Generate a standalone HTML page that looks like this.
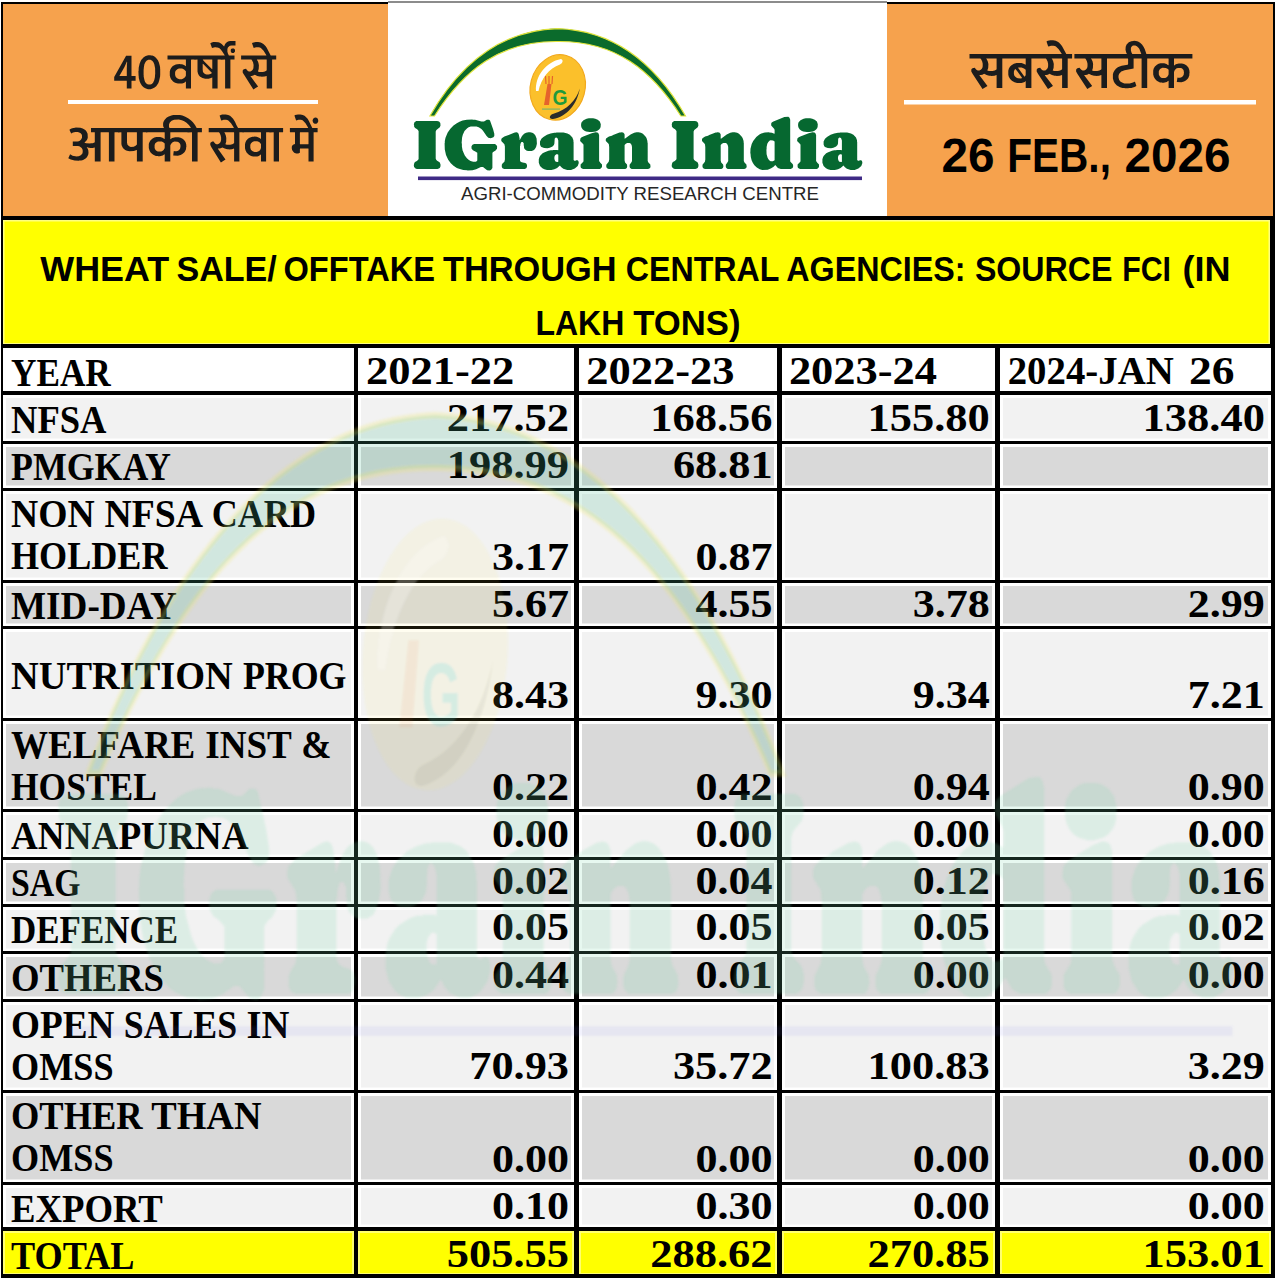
<!DOCTYPE html><html><head><meta charset="utf-8"><title>Wheat sale / offtake through central agencies</title><style>html,body{margin:0;padding:0;background:#fff}body{width:1276px;height:1280px;overflow:hidden;position:relative}svg{position:absolute;left:0;top:0}.t{font-family:"Liberation Serif",serif;font-weight:bold;font-size:41px;fill:#000}.s{font-family:"Liberation Sans",sans-serif}</style></head><body><svg width="1276" height="1280" viewBox="0 0 1276 1280"><rect x="0" y="0" width="1276" height="1280" fill="#fff"/><rect x="1" y="2" width="1274" height="1276" fill="#000"/><rect x="3" y="4" width="385" height="212" fill="#f6a24d"/><rect x="388" y="1" width="499" height="2" fill="#8c8c8c"/><rect x="388" y="3" width="499" height="213" fill="#fff"/><rect x="887" y="4" width="386" height="212" fill="#f6a24d"/><rect x="3" y="220" width="1267" height="124" fill="#ffff80"/><rect x="4.5" y="221.5" width="1264" height="121.5" fill="#ffff00"/><rect x="3" y="348" width="351" height="43" fill="#fff"/><rect x="358" y="348" width="216" height="43" fill="#fff"/><rect x="579" y="348" width="198" height="43" fill="#fff"/><rect x="782" y="348" width="213" height="43" fill="#fff"/><rect x="1000" y="348" width="271" height="43" fill="#fff"/><rect x="3" y="395" width="351" height="46" fill="#fff"/><rect x="6" y="398" width="345" height="40.5" fill="#f2f2f2"/><rect x="358" y="395" width="216" height="46" fill="#fff"/><rect x="361" y="398" width="210" height="40.5" fill="#f2f2f2"/><rect x="579" y="395" width="198" height="46" fill="#fff"/><rect x="582" y="398" width="192" height="40.5" fill="#f2f2f2"/><rect x="782" y="395" width="213" height="46" fill="#fff"/><rect x="785" y="398" width="207" height="40.5" fill="#f2f2f2"/><rect x="1000" y="395" width="271" height="46" fill="#fff"/><rect x="1003" y="398" width="265" height="40.5" fill="#f2f2f2"/><rect x="3" y="444" width="351" height="44" fill="#fff"/><rect x="6" y="447" width="345" height="38.5" fill="#d9d9d9"/><rect x="358" y="444" width="216" height="44" fill="#fff"/><rect x="361" y="447" width="210" height="38.5" fill="#d9d9d9"/><rect x="579" y="444" width="198" height="44" fill="#fff"/><rect x="582" y="447" width="192" height="38.5" fill="#d9d9d9"/><rect x="782" y="444" width="213" height="44" fill="#fff"/><rect x="785" y="447" width="207" height="38.5" fill="#d9d9d9"/><rect x="1000" y="444" width="271" height="44" fill="#fff"/><rect x="1003" y="447" width="265" height="38.5" fill="#d9d9d9"/><rect x="3" y="491" width="351" height="89" fill="#fff"/><rect x="6" y="494" width="345" height="83.5" fill="#f2f2f2"/><rect x="358" y="491" width="216" height="89" fill="#fff"/><rect x="361" y="494" width="210" height="83.5" fill="#f2f2f2"/><rect x="579" y="491" width="198" height="89" fill="#fff"/><rect x="582" y="494" width="192" height="83.5" fill="#f2f2f2"/><rect x="782" y="491" width="213" height="89" fill="#fff"/><rect x="785" y="494" width="207" height="83.5" fill="#f2f2f2"/><rect x="1000" y="491" width="271" height="89" fill="#fff"/><rect x="1003" y="494" width="265" height="83.5" fill="#f2f2f2"/><rect x="3" y="583" width="351" height="43" fill="#fff"/><rect x="6" y="586" width="345" height="37.5" fill="#d9d9d9"/><rect x="358" y="583" width="216" height="43" fill="#fff"/><rect x="361" y="586" width="210" height="37.5" fill="#d9d9d9"/><rect x="579" y="583" width="198" height="43" fill="#fff"/><rect x="582" y="586" width="192" height="37.5" fill="#d9d9d9"/><rect x="782" y="583" width="213" height="43" fill="#fff"/><rect x="785" y="586" width="207" height="37.5" fill="#d9d9d9"/><rect x="1000" y="583" width="271" height="43" fill="#fff"/><rect x="1003" y="586" width="265" height="37.5" fill="#d9d9d9"/><rect x="3" y="629" width="351" height="89" fill="#fff"/><rect x="6" y="632" width="345" height="83.5" fill="#f2f2f2"/><rect x="358" y="629" width="216" height="89" fill="#fff"/><rect x="361" y="632" width="210" height="83.5" fill="#f2f2f2"/><rect x="579" y="629" width="198" height="89" fill="#fff"/><rect x="582" y="632" width="192" height="83.5" fill="#f2f2f2"/><rect x="782" y="629" width="213" height="89" fill="#fff"/><rect x="785" y="632" width="207" height="83.5" fill="#f2f2f2"/><rect x="1000" y="629" width="271" height="89" fill="#fff"/><rect x="1003" y="632" width="265" height="83.5" fill="#f2f2f2"/><rect x="3" y="721" width="351" height="88" fill="#fff"/><rect x="6" y="724" width="345" height="82.5" fill="#d9d9d9"/><rect x="358" y="721" width="216" height="88" fill="#fff"/><rect x="361" y="724" width="210" height="82.5" fill="#d9d9d9"/><rect x="579" y="721" width="198" height="88" fill="#fff"/><rect x="582" y="724" width="192" height="82.5" fill="#d9d9d9"/><rect x="782" y="721" width="213" height="88" fill="#fff"/><rect x="785" y="724" width="207" height="82.5" fill="#d9d9d9"/><rect x="1000" y="721" width="271" height="88" fill="#fff"/><rect x="1003" y="724" width="265" height="82.5" fill="#d9d9d9"/><rect x="3" y="812" width="351" height="45" fill="#fff"/><rect x="6" y="815" width="345" height="39.5" fill="#f2f2f2"/><rect x="358" y="812" width="216" height="45" fill="#fff"/><rect x="361" y="815" width="210" height="39.5" fill="#f2f2f2"/><rect x="579" y="812" width="198" height="45" fill="#fff"/><rect x="582" y="815" width="192" height="39.5" fill="#f2f2f2"/><rect x="782" y="812" width="213" height="45" fill="#fff"/><rect x="785" y="815" width="207" height="39.5" fill="#f2f2f2"/><rect x="1000" y="812" width="271" height="45" fill="#fff"/><rect x="1003" y="815" width="265" height="39.5" fill="#f2f2f2"/><rect x="3" y="860" width="351" height="44" fill="#fff"/><rect x="6" y="863" width="345" height="38.5" fill="#d9d9d9"/><rect x="358" y="860" width="216" height="44" fill="#fff"/><rect x="361" y="863" width="210" height="38.5" fill="#d9d9d9"/><rect x="579" y="860" width="198" height="44" fill="#fff"/><rect x="582" y="863" width="192" height="38.5" fill="#d9d9d9"/><rect x="782" y="860" width="213" height="44" fill="#fff"/><rect x="785" y="863" width="207" height="38.5" fill="#d9d9d9"/><rect x="1000" y="860" width="271" height="44" fill="#fff"/><rect x="1003" y="863" width="265" height="38.5" fill="#d9d9d9"/><rect x="3" y="907" width="351" height="44" fill="#fff"/><rect x="6" y="910" width="345" height="38.5" fill="#f2f2f2"/><rect x="358" y="907" width="216" height="44" fill="#fff"/><rect x="361" y="910" width="210" height="38.5" fill="#f2f2f2"/><rect x="579" y="907" width="198" height="44" fill="#fff"/><rect x="582" y="910" width="192" height="38.5" fill="#f2f2f2"/><rect x="782" y="907" width="213" height="44" fill="#fff"/><rect x="785" y="910" width="207" height="38.5" fill="#f2f2f2"/><rect x="1000" y="907" width="271" height="44" fill="#fff"/><rect x="1003" y="910" width="265" height="38.5" fill="#f2f2f2"/><rect x="3" y="954" width="351" height="45" fill="#fff"/><rect x="6" y="957" width="345" height="39.5" fill="#d9d9d9"/><rect x="358" y="954" width="216" height="45" fill="#fff"/><rect x="361" y="957" width="210" height="39.5" fill="#d9d9d9"/><rect x="579" y="954" width="198" height="45" fill="#fff"/><rect x="582" y="957" width="192" height="39.5" fill="#d9d9d9"/><rect x="782" y="954" width="213" height="45" fill="#fff"/><rect x="785" y="957" width="207" height="39.5" fill="#d9d9d9"/><rect x="1000" y="954" width="271" height="45" fill="#fff"/><rect x="1003" y="957" width="265" height="39.5" fill="#d9d9d9"/><rect x="3" y="1002" width="351" height="88" fill="#fff"/><rect x="6" y="1005" width="345" height="82.5" fill="#f2f2f2"/><rect x="358" y="1002" width="216" height="88" fill="#fff"/><rect x="361" y="1005" width="210" height="82.5" fill="#f2f2f2"/><rect x="579" y="1002" width="198" height="88" fill="#fff"/><rect x="582" y="1005" width="192" height="82.5" fill="#f2f2f2"/><rect x="782" y="1002" width="213" height="88" fill="#fff"/><rect x="785" y="1005" width="207" height="82.5" fill="#f2f2f2"/><rect x="1000" y="1002" width="271" height="88" fill="#fff"/><rect x="1003" y="1005" width="265" height="82.5" fill="#f2f2f2"/><rect x="3" y="1093" width="351" height="89" fill="#fff"/><rect x="6" y="1096" width="345" height="83.5" fill="#d9d9d9"/><rect x="358" y="1093" width="216" height="89" fill="#fff"/><rect x="361" y="1096" width="210" height="83.5" fill="#d9d9d9"/><rect x="579" y="1093" width="198" height="89" fill="#fff"/><rect x="582" y="1096" width="192" height="83.5" fill="#d9d9d9"/><rect x="782" y="1093" width="213" height="89" fill="#fff"/><rect x="785" y="1096" width="207" height="83.5" fill="#d9d9d9"/><rect x="1000" y="1093" width="271" height="89" fill="#fff"/><rect x="1003" y="1096" width="265" height="83.5" fill="#d9d9d9"/><rect x="3" y="1185" width="351" height="42" fill="#fff"/><rect x="6" y="1188" width="345" height="36.5" fill="#f2f2f2"/><rect x="358" y="1185" width="216" height="42" fill="#fff"/><rect x="361" y="1188" width="210" height="36.5" fill="#f2f2f2"/><rect x="579" y="1185" width="198" height="42" fill="#fff"/><rect x="582" y="1188" width="192" height="36.5" fill="#f2f2f2"/><rect x="782" y="1185" width="213" height="42" fill="#fff"/><rect x="785" y="1188" width="207" height="36.5" fill="#f2f2f2"/><rect x="1000" y="1185" width="271" height="42" fill="#fff"/><rect x="1003" y="1188" width="265" height="36.5" fill="#f2f2f2"/><rect x="3" y="1231" width="351" height="43" fill="#fff"/><rect x="3" y="1231" width="351" height="43" fill="#ffff70"/><rect x="5" y="1233" width="347" height="40" fill="#ffff00"/><rect x="358" y="1231" width="216" height="43" fill="#fff"/><rect x="358" y="1231" width="216" height="43" fill="#ffff70"/><rect x="360" y="1233" width="212" height="40" fill="#ffff00"/><rect x="579" y="1231" width="198" height="43" fill="#fff"/><rect x="579" y="1231" width="198" height="43" fill="#ffff70"/><rect x="581" y="1233" width="194" height="40" fill="#ffff00"/><rect x="782" y="1231" width="213" height="43" fill="#fff"/><rect x="782" y="1231" width="213" height="43" fill="#ffff70"/><rect x="784" y="1233" width="209" height="40" fill="#ffff00"/><rect x="1000" y="1231" width="271" height="43" fill="#fff"/><rect x="1000" y="1231" width="271" height="43" fill="#ffff70"/><rect x="1002" y="1233" width="267" height="40" fill="#ffff00"/><text class="t" x="11.0" y="386.0" textLength="99.8" lengthAdjust="spacingAndGlyphs">YEAR</text><text class="t" x="366.0" y="383.5" textLength="148.2" lengthAdjust="spacingAndGlyphs">2021-22</text><text class="t" x="586.3" y="383.5" textLength="148.2" lengthAdjust="spacingAndGlyphs">2022-23</text><text class="t" x="788.9" y="383.5" textLength="148.2" lengthAdjust="spacingAndGlyphs">2023-24</text><text class="t" x="1007.7" y="383.5" textLength="166" lengthAdjust="spacingAndGlyphs">2024-JAN</text><text class="t" x="1189" y="383.5" textLength="45.5" lengthAdjust="spacingAndGlyphs">26</text><text class="t" x="11.0" y="432.8" textLength="95.5" lengthAdjust="spacingAndGlyphs">NFSA</text><text class="t" x="569.0" y="430.5" text-anchor="end" textLength="122.3" lengthAdjust="spacingAndGlyphs">217.52</text><text class="t" x="772.6" y="430.5" text-anchor="end" textLength="122.3" lengthAdjust="spacingAndGlyphs">168.56</text><text class="t" x="989.8" y="430.5" text-anchor="end" textLength="122.3" lengthAdjust="spacingAndGlyphs">155.80</text><text class="t" x="1264.9" y="430.5" text-anchor="end" textLength="122.3" lengthAdjust="spacingAndGlyphs">138.40</text><text class="t" x="11.0" y="480.1" textLength="160.0" lengthAdjust="spacingAndGlyphs">PMGKAY</text><text class="t" x="569.0" y="477.5" text-anchor="end" textLength="122.3" lengthAdjust="spacingAndGlyphs">198.99</text><text class="t" x="772.6" y="477.5" text-anchor="end" textLength="99.7" lengthAdjust="spacingAndGlyphs">68.81</text><text class="t" x="11.0" y="527.1" textLength="83.6" lengthAdjust="spacingAndGlyphs">NON</text><text class="t" x="104.6" y="527.1" textLength="98.5" lengthAdjust="spacingAndGlyphs">NFSA</text><text class="t" x="211.7" y="527.1" textLength="104.3" lengthAdjust="spacingAndGlyphs">CARD</text><text class="t" x="11.0" y="569.2" textLength="156.5" lengthAdjust="spacingAndGlyphs">HOLDER</text><text class="t" x="569.0" y="569.6" text-anchor="end" textLength="77.1" lengthAdjust="spacingAndGlyphs">3.17</text><text class="t" x="772.6" y="569.6" text-anchor="end" textLength="77.1" lengthAdjust="spacingAndGlyphs">0.87</text><text class="t" x="11.0" y="618.9" textLength="165.9" lengthAdjust="spacingAndGlyphs">MID-DAY</text><text class="t" x="569.0" y="616.5" text-anchor="end" textLength="77.1" lengthAdjust="spacingAndGlyphs">5.67</text><text class="t" x="772.6" y="616.5" text-anchor="end" textLength="77.1" lengthAdjust="spacingAndGlyphs">4.55</text><text class="t" x="989.8" y="616.5" text-anchor="end" textLength="77.1" lengthAdjust="spacingAndGlyphs">3.78</text><text class="t" x="1264.9" y="616.5" text-anchor="end" textLength="77.1" lengthAdjust="spacingAndGlyphs">2.99</text><text class="t" x="11.0" y="688.5" textLength="221.7" lengthAdjust="spacingAndGlyphs">NUTRITION</text><text class="t" x="242.9" y="688.5" textLength="103.6" lengthAdjust="spacingAndGlyphs">PROG</text><text class="t" x="569.0" y="708.0" text-anchor="end" textLength="77.1" lengthAdjust="spacingAndGlyphs">8.43</text><text class="t" x="772.6" y="708.0" text-anchor="end" textLength="77.1" lengthAdjust="spacingAndGlyphs">9.30</text><text class="t" x="989.8" y="708.0" text-anchor="end" textLength="77.1" lengthAdjust="spacingAndGlyphs">9.34</text><text class="t" x="1264.9" y="708.0" text-anchor="end" textLength="77.1" lengthAdjust="spacingAndGlyphs">7.21</text><text class="t" x="11.0" y="757.6" textLength="184.3" lengthAdjust="spacingAndGlyphs">WELFARE</text><text class="t" x="205.2" y="757.6" textLength="86.7" lengthAdjust="spacingAndGlyphs">INST</text><text class="t" x="301.3" y="757.6" textLength="30.2" lengthAdjust="spacingAndGlyphs">&amp;</text><text class="t" x="11.0" y="799.6" textLength="145.9" lengthAdjust="spacingAndGlyphs">HOSTEL</text><text class="t" x="569.0" y="799.6" text-anchor="end" textLength="77.1" lengthAdjust="spacingAndGlyphs">0.22</text><text class="t" x="772.6" y="799.6" text-anchor="end" textLength="77.1" lengthAdjust="spacingAndGlyphs">0.42</text><text class="t" x="989.8" y="799.6" text-anchor="end" textLength="77.1" lengthAdjust="spacingAndGlyphs">0.94</text><text class="t" x="1264.9" y="799.6" text-anchor="end" textLength="77.1" lengthAdjust="spacingAndGlyphs">0.90</text><text class="t" x="11.0" y="849.2" textLength="237.5" lengthAdjust="spacingAndGlyphs">ANNAPURNA</text><text class="t" x="569.0" y="846.5" text-anchor="end" textLength="77.1" lengthAdjust="spacingAndGlyphs">0.00</text><text class="t" x="772.6" y="846.5" text-anchor="end" textLength="77.1" lengthAdjust="spacingAndGlyphs">0.00</text><text class="t" x="989.8" y="846.5" text-anchor="end" textLength="77.1" lengthAdjust="spacingAndGlyphs">0.00</text><text class="t" x="1264.9" y="846.5" text-anchor="end" textLength="77.1" lengthAdjust="spacingAndGlyphs">0.00</text><text class="t" x="11.0" y="896.4" textLength="69.5" lengthAdjust="spacingAndGlyphs">SAG</text><text class="t" x="569.0" y="894.4" text-anchor="end" textLength="77.1" lengthAdjust="spacingAndGlyphs">0.02</text><text class="t" x="772.6" y="894.4" text-anchor="end" textLength="77.1" lengthAdjust="spacingAndGlyphs">0.04</text><text class="t" x="989.8" y="894.4" text-anchor="end" textLength="77.1" lengthAdjust="spacingAndGlyphs">0.12</text><text class="t" x="1264.9" y="894.4" text-anchor="end" textLength="77.1" lengthAdjust="spacingAndGlyphs">0.16</text><text class="t" x="11.0" y="943.4" textLength="167.1" lengthAdjust="spacingAndGlyphs">DEFENCE</text><text class="t" x="569.0" y="940.3" text-anchor="end" textLength="77.1" lengthAdjust="spacingAndGlyphs">0.05</text><text class="t" x="772.6" y="940.3" text-anchor="end" textLength="77.1" lengthAdjust="spacingAndGlyphs">0.05</text><text class="t" x="989.8" y="940.3" text-anchor="end" textLength="77.1" lengthAdjust="spacingAndGlyphs">0.05</text><text class="t" x="1264.9" y="940.3" text-anchor="end" textLength="77.1" lengthAdjust="spacingAndGlyphs">0.02</text><text class="t" x="11.0" y="991.0" textLength="153.0" lengthAdjust="spacingAndGlyphs">OTHERS</text><text class="t" x="569.0" y="988.1" text-anchor="end" textLength="77.1" lengthAdjust="spacingAndGlyphs">0.44</text><text class="t" x="772.6" y="988.1" text-anchor="end" textLength="77.1" lengthAdjust="spacingAndGlyphs">0.01</text><text class="t" x="989.8" y="988.1" text-anchor="end" textLength="77.1" lengthAdjust="spacingAndGlyphs">0.00</text><text class="t" x="1264.9" y="988.1" text-anchor="end" textLength="77.1" lengthAdjust="spacingAndGlyphs">0.00</text><text class="t" x="11.0" y="1037.6" textLength="103.4" lengthAdjust="spacingAndGlyphs">OPEN</text><text class="t" x="123.8" y="1037.6" textLength="113.3" lengthAdjust="spacingAndGlyphs">SALES</text><text class="t" x="246.6" y="1037.6" textLength="42.9" lengthAdjust="spacingAndGlyphs">IN</text><text class="t" x="11.0" y="1079.6" textLength="102.5" lengthAdjust="spacingAndGlyphs">OMSS</text><text class="t" x="569.0" y="1079.4" text-anchor="end" textLength="99.7" lengthAdjust="spacingAndGlyphs">70.93</text><text class="t" x="772.6" y="1079.4" text-anchor="end" textLength="99.7" lengthAdjust="spacingAndGlyphs">35.72</text><text class="t" x="989.8" y="1079.4" text-anchor="end" textLength="122.3" lengthAdjust="spacingAndGlyphs">100.83</text><text class="t" x="1264.9" y="1079.4" text-anchor="end" textLength="77.1" lengthAdjust="spacingAndGlyphs">3.29</text><text class="t" x="11.0" y="1129.2" textLength="131.6" lengthAdjust="spacingAndGlyphs">OTHER</text><text class="t" x="151.2" y="1129.2" textLength="110.3" lengthAdjust="spacingAndGlyphs">THAN</text><text class="t" x="11.0" y="1171.2" textLength="102.5" lengthAdjust="spacingAndGlyphs">OMSS</text><text class="t" x="569.0" y="1172.0" text-anchor="end" textLength="77.1" lengthAdjust="spacingAndGlyphs">0.00</text><text class="t" x="772.6" y="1172.0" text-anchor="end" textLength="77.1" lengthAdjust="spacingAndGlyphs">0.00</text><text class="t" x="989.8" y="1172.0" text-anchor="end" textLength="77.1" lengthAdjust="spacingAndGlyphs">0.00</text><text class="t" x="1264.9" y="1172.0" text-anchor="end" textLength="77.1" lengthAdjust="spacingAndGlyphs">0.00</text><text class="t" x="11.0" y="1221.5" textLength="151.8" lengthAdjust="spacingAndGlyphs">EXPORT</text><text class="t" x="569.0" y="1218.8" text-anchor="end" textLength="77.1" lengthAdjust="spacingAndGlyphs">0.10</text><text class="t" x="772.6" y="1218.8" text-anchor="end" textLength="77.1" lengthAdjust="spacingAndGlyphs">0.30</text><text class="t" x="989.8" y="1218.8" text-anchor="end" textLength="77.1" lengthAdjust="spacingAndGlyphs">0.00</text><text class="t" x="1264.9" y="1218.8" text-anchor="end" textLength="77.1" lengthAdjust="spacingAndGlyphs">0.00</text><text class="t" x="11.0" y="1268.6" textLength="123.5" lengthAdjust="spacingAndGlyphs">TOTAL</text><text class="t" x="569.0" y="1266.5" text-anchor="end" textLength="122.3" lengthAdjust="spacingAndGlyphs">505.55</text><text class="t" x="772.6" y="1266.5" text-anchor="end" textLength="122.3" lengthAdjust="spacingAndGlyphs">288.62</text><text class="t" x="989.8" y="1266.5" text-anchor="end" textLength="122.3" lengthAdjust="spacingAndGlyphs">270.85</text><text class="t" x="1264.9" y="1266.5" text-anchor="end" textLength="122.3" lengthAdjust="spacingAndGlyphs">153.01</text><text class="s" x="40.3" y="281.4" font-size="35.3" font-weight="bold" fill="#000" textLength="128.9" lengthAdjust="spacingAndGlyphs">WHEAT</text><text class="s" x="176.4" y="281.4" font-size="35.3" font-weight="bold" fill="#000" textLength="100.4" lengthAdjust="spacingAndGlyphs">SALE/</text><text class="s" x="283.5" y="281.4" font-size="35.3" font-weight="bold" fill="#000" textLength="151.5" lengthAdjust="spacingAndGlyphs">OFFTAKE</text><text class="s" x="442.9" y="281.4" font-size="35.3" font-weight="bold" fill="#000" textLength="173.7" lengthAdjust="spacingAndGlyphs">THROUGH</text><text class="s" x="625.8" y="281.4" font-size="35.3" font-weight="bold" fill="#000" textLength="153.6" lengthAdjust="spacingAndGlyphs">CENTRAL</text><text class="s" x="786.3" y="281.4" font-size="35.3" font-weight="bold" fill="#000" textLength="179.2" lengthAdjust="spacingAndGlyphs">AGENCIES:</text><text class="s" x="974.9" y="281.4" font-size="35.3" font-weight="bold" fill="#000" textLength="137.6" lengthAdjust="spacingAndGlyphs">SOURCE</text><text class="s" x="1122.2" y="281.4" font-size="35.3" font-weight="bold" fill="#000" textLength="48.8" lengthAdjust="spacingAndGlyphs">FCI</text><text class="s" x="1182.4" y="281.4" font-size="35.3" font-weight="bold" fill="#000" textLength="48.1" lengthAdjust="spacingAndGlyphs">(IN</text><text class="s" x="535.4" y="334.5" font-size="35.3" font-weight="bold" fill="#000" textLength="89.0" lengthAdjust="spacingAndGlyphs">LAKH</text><text class="s" x="633.3" y="334.5" font-size="35.3" font-weight="bold" fill="#000" textLength="107.2" lengthAdjust="spacingAndGlyphs">TONS)</text><text class="s" x="941.5" y="171.6" font-size="47.4" font-weight="bold" fill="#000" textLength="53.1" lengthAdjust="spacingAndGlyphs">26</text><text class="s" x="1007.3" y="171.6" font-size="47.4" font-weight="bold" fill="#000" textLength="103.6" lengthAdjust="spacingAndGlyphs">FEB.,</text><text class="s" x="1124.4" y="171.6" font-size="47.4" font-weight="bold" fill="#000" textLength="106.1" lengthAdjust="spacingAndGlyphs">2026</text><path aria-label="40 वर्षों से आपकी सेवा में" d="M126.1 55.8 114.2 76.9 114.2 80.8 126.7 80.8 126.8 80.9 126.8 88.6 131.5 88.6 131.5 80.9 131.7 80.8 135.6 80.8 135.6 76.1 131.7 76.1 131.5 75.9 131.5 55.8ZM126.9 61.5 127.1 61.7 127.1 63.5 126.9 63.6 126.9 67.3 126.8 67.5 126.8 75.9 126.7 76.1 119.6 76.1 119.5 75.7 124.5 67.0ZM148.2 55.2 145.7 55.9 143.7 57.2 141.4 59.8 140.7 61.0 139.6 63.8 138.7 67.7 138.6 71.0 138.4 71.2 138.6 75.7 138.7 75.9 138.8 78.0 139.7 81.5 140.6 83.6 142.0 85.8 143.9 87.6 145.9 88.6 148.0 89.2 150.6 89.2 152.6 88.6 154.6 87.6 156.2 86.2 157.1 85.1 158.4 82.9 159.2 80.6 160.1 76.6 160.1 75.5 160.2 75.4 160.2 68.9 160.1 68.7 160.1 67.5 159.8 65.7 158.9 62.6 157.9 60.3 155.9 57.7 154.1 56.3 152.3 55.6 150.8 55.4 150.6 55.2ZM148.3 59.8 150.5 59.8 152.2 60.7 153.3 62.1 154.3 64.3 155.1 68.2 155.2 74.1 155.1 74.3 154.9 77.3 154.3 79.9 153.2 82.5 151.9 83.9 150.5 84.6 148.5 84.6 147.5 84.3 146.6 83.7 145.3 82.2 144.7 80.9 144.2 79.0 143.7 76.4 143.7 75.0 143.6 74.8 143.6 69.6 143.7 69.4 143.9 67.0 144.4 64.3 145.5 62.1 146.5 60.8ZM231.9 48.6 231.0 49.3 230.7 50.0 230.9 51.9 232.0 53.0 233.7 53.0 234.7 52.1 235.0 51.4 235.0 50.0 234.7 49.3 233.9 48.6 233.4 48.4ZM235.5 41.1 230.0 41.1 228.0 41.6 225.9 43.0 224.9 44.4 224.1 46.5 221.7 44.1 219.8 42.8 218.3 42.3 214.8 42.0 214.6 42.1 213.3 42.1 211.8 42.5 210.3 43.2 212.0 47.9 214.9 47.2 216.3 47.2 216.4 47.4 217.4 47.4 219.1 48.1 220.3 49.0 221.9 50.9 224.7 55.2 224.6 55.4 167.5 55.4 167.5 59.6 185.7 59.6 185.9 59.8 185.9 66.1 185.7 66.3 184.9 65.6 182.9 64.5 181.6 64.2 180.3 64.2 180.1 64.0 177.3 64.2 175.8 64.5 173.8 65.4 172.8 66.1 171.3 67.7 170.3 69.6 169.8 71.5 169.8 75.5 170.3 77.4 171.1 79.2 173.1 81.5 174.1 82.2 175.9 83.0 177.9 83.6 182.1 83.6 183.7 83.0 184.7 82.5 185.7 81.6 185.9 81.8 185.9 88.6 191.0 88.6 191.0 60.0 191.4 59.6 194.4 59.6 194.5 59.8 197.4 59.6 197.5 59.8 197.5 71.5 198.0 73.6 198.8 75.2 200.2 76.8 202.5 78.1 205.2 78.8 208.6 78.8 211.0 78.1 212.1 77.4 212.3 77.6 212.3 88.6 217.6 88.6 217.6 59.8 217.8 59.6 220.7 59.6 220.9 59.8 224.9 59.6 225.1 59.8 225.1 88.6 230.4 88.6 230.4 59.8 230.5 59.6 234.5 59.6 234.5 55.4 228.9 55.4 228.0 53.8 227.4 51.8 227.4 49.0 227.9 47.6 229.2 46.2 229.9 45.8 231.5 45.5 235.5 45.5ZM177.3 69.2 178.9 68.5 182.1 68.5 184.1 69.4 185.9 71.2 185.9 75.4 185.2 76.9 184.1 78.1 182.9 78.8 181.8 79.2 179.4 79.2 178.1 78.8 177.1 78.3 175.8 76.9 175.1 75.0 175.1 72.6 175.4 71.3 175.9 70.5ZM202.7 64.0 203.0 63.8 212.0 72.9 210.5 74.0 208.6 74.5 206.5 74.5 205.6 74.3 204.3 73.6 203.5 72.7 202.8 71.3 202.8 70.3 202.7 70.1ZM202.8 59.8 203.0 59.6 212.1 59.6 212.3 59.8 212.3 69.1 212.1 69.2 211.8 69.1 204.0 61.2ZM252.7 42.7 252.1 43.0 252.1 43.4 253.7 47.9 256.2 47.2 258.6 47.2 259.9 47.6 260.9 48.1 263.6 50.7 266.4 55.2 266.2 55.4 241.1 55.4 241.1 59.6 251.4 59.6 252.1 60.5 253.1 62.6 253.6 64.9 253.4 68.2 252.7 69.8 251.7 70.8 250.4 71.5 248.9 71.5 247.9 71.0 246.7 69.8 246.1 68.7 244.7 68.9 243.4 69.6 242.7 70.6 242.7 72.4 243.1 73.3 253.4 89.5 258.1 86.5 250.4 76.1 250.6 75.9 251.7 75.9 253.2 75.5 254.9 74.7 257.2 75.9 259.7 76.6 261.2 76.6 261.4 76.8 264.6 76.6 266.6 75.9 266.7 76.1 266.7 88.6 272.1 88.6 272.1 59.8 272.2 59.6 276.2 59.6 276.2 55.4 270.7 55.4 266.7 47.7 265.7 46.3 263.7 44.2 262.6 43.4 260.7 42.5 258.2 42.0 255.7 42.0ZM257.1 59.6 266.6 59.6 266.7 59.8 266.7 70.3 266.2 70.8 264.9 71.5 262.9 72.0 259.4 72.0 257.9 71.5 258.7 69.1 258.9 65.2 258.4 62.8 257.6 60.8 256.9 60.0ZM201.9 128.0 196.7 128.0 195.0 125.0 192.9 122.2 191.1 120.4 188.5 118.4 185.3 116.7 182.4 115.6 179.9 115.1 178.4 115.1 178.3 114.9 173.2 115.1 171.4 115.4 168.1 116.7 166.5 117.7 164.5 119.9 163.4 122.0 163.1 123.6 163.1 125.5 163.4 126.9 164.0 127.8 163.8 128.0 91.0 128.0 91.0 132.2 94.7 132.2 94.8 132.4 94.8 142.1 94.5 142.5 92.7 143.2 90.5 143.3 90.3 143.5 86.2 143.3 84.4 142.8 86.7 140.3 87.4 138.9 87.8 137.5 87.6 133.8 86.5 131.5 85.3 130.1 82.7 128.5 80.4 127.8 75.5 127.6 75.3 127.8 73.3 128.0 71.5 128.5 69.6 129.6 69.7 130.5 71.2 133.5 73.0 132.6 75.3 132.0 77.9 132.0 79.1 132.4 80.4 133.1 81.7 134.5 82.0 135.6 82.0 137.7 81.1 139.6 79.8 140.7 78.8 141.2 77.5 141.6 72.8 141.6 72.8 146.0 77.9 146.0 79.3 146.3 80.4 146.9 81.7 147.9 82.4 149.2 82.7 150.6 82.7 152.0 82.4 153.4 81.8 154.3 80.4 155.5 78.6 156.2 75.9 156.4 75.7 156.2 73.7 156.1 72.6 155.7 70.1 154.3 68.3 158.2 70.8 159.6 74.6 160.6 78.9 160.8 79.1 160.6 81.3 160.5 83.1 159.9 85.6 158.5 86.9 157.3 88.2 154.8 88.5 153.1 88.3 150.2 87.6 148.5 86.7 147.4 87.4 147.2 88.7 147.8 89.6 147.8 89.8 147.9 92.5 147.9 94.7 147.4 94.8 147.6 94.8 161.5 100.6 161.5 100.6 132.4 100.8 132.2 108.6 132.2 108.9 132.6 108.9 161.5 114.5 161.5 114.5 132.4 114.7 132.2 117.9 132.2 118.1 132.4 121.2 132.2 121.4 132.4 121.4 143.9 121.7 145.6 122.8 147.8 123.9 149.0 125.7 150.2 127.0 150.8 129.5 151.3 133.8 151.1 136.7 149.9 136.9 150.1 136.9 161.5 142.7 161.5 142.7 132.4 142.9 132.2 146.1 132.2 146.3 132.4 147.2 132.4 147.4 132.2 164.4 132.2 164.7 132.6 164.7 138.8 164.4 138.9 162.5 137.7 160.2 137.0 156.4 137.0 154.4 137.5 152.6 138.4 150.6 140.2 149.4 142.3 148.8 144.0 148.8 148.1 149.5 150.6 150.4 152.2 151.9 153.8 153.3 154.8 155.9 155.9 157.9 156.1 158.0 156.2 159.7 156.2 162.7 155.5 164.5 154.3 164.7 154.5 164.7 161.5 170.3 161.5 170.3 145.6 171.0 143.9 172.3 142.5 173.2 141.9 174.5 141.6 177.5 141.8 178.6 142.3 179.9 143.5 180.4 144.8 180.4 145.6 180.6 145.8 180.2 148.3 179.7 149.3 178.8 150.2 177.5 150.9 176.3 151.3 174.5 151.3 174.3 151.1 173.7 151.3 173.2 155.5 177.9 155.7 180.6 155.0 182.4 154.1 184.2 152.5 185.1 151.3 186.0 149.2 186.2 146.9 186.4 146.7 186.2 144.2 185.7 142.5 184.9 141.0 183.0 138.9 180.6 137.7 178.4 137.2 175.2 137.2 172.1 138.0 170.5 139.3 170.3 139.1 170.3 132.4 170.5 132.2 187.5 132.2 187.6 132.4 191.8 132.2 192.0 132.4 192.0 161.5 197.6 161.5 197.6 132.6 197.9 132.2 201.9 132.2ZM157.9 141.6 158.6 141.4 161.8 141.6 163.6 142.5 164.7 143.5 164.7 147.6 164.5 148.5 163.6 150.1 162.0 151.3 160.9 151.6 157.7 151.5 156.4 150.8 155.5 149.9 154.8 148.6 154.6 147.9 154.6 144.9 155.3 143.3 156.2 142.5ZM127.3 132.2 136.7 132.2 136.9 132.4 136.9 144.6 135.6 145.8 133.7 146.7 130.8 146.9 129.1 146.3 127.5 144.8 127.0 142.6 127.0 132.6ZM169.0 124.5 169.8 122.5 171.6 120.7 174.1 119.7 178.8 119.5 181.9 120.2 184.2 121.3 186.2 122.5 188.9 125.0 190.9 127.8 190.7 128.0 169.6 128.0 169.0 127.1ZM208.7 128.0 208.7 132.2 218.9 132.2 219.6 133.1 220.6 135.2 221.1 137.5 221.1 140.0 220.7 141.4 220.2 142.5 219.2 143.5 217.9 144.2 216.4 144.2 215.4 143.7 214.3 142.5 213.6 141.4 212.3 141.6 211.5 141.9 210.7 142.6 210.3 143.3 210.3 145.1 211.7 147.8 220.9 162.4 225.5 159.4 217.9 148.8 218.1 148.6 219.2 148.6 220.7 148.3 222.4 147.4 224.7 148.6 227.2 149.3 228.7 149.3 228.8 149.5 232.0 149.3 233.9 148.6 234.1 148.8 234.1 161.5 239.4 161.5 239.4 132.4 239.5 132.2 242.5 132.2 242.7 132.4 243.5 132.4 243.7 132.2 260.8 132.2 261.0 132.4 261.0 138.8 260.8 138.9 260.0 138.2 258.0 137.2 256.7 136.8 254.2 136.6 254.1 136.8 252.4 136.8 250.9 137.2 249.0 138.0 248.0 138.8 246.5 140.3 245.5 142.3 245.0 144.2 245.0 148.3 245.5 150.2 246.6 152.5 248.3 154.3 249.3 155.0 251.1 155.9 253.1 156.4 257.2 156.4 258.9 155.9 259.8 155.3 260.8 154.5 261.0 154.6 261.0 161.5 266.1 161.5 266.1 132.6 266.4 132.2 269.4 132.2 269.6 132.4 273.5 132.2 273.7 132.4 273.7 161.5 279.0 161.5 279.0 132.4 279.2 132.2 283.1 132.2 283.1 128.0 238.1 128.0 236.4 125.0 235.1 122.0 233.1 118.8 231.1 116.7 230.0 115.8 228.2 114.9 225.7 114.4 222.1 114.6 219.6 115.4 221.1 120.2 221.6 120.4 223.7 119.7 226.0 119.7 227.3 120.0 228.3 120.6 231.0 123.2 233.8 127.6 233.6 128.0ZM252.4 141.9 254.1 141.2 257.2 141.2 259.2 142.1 261.0 143.9 261.0 148.1 260.3 149.7 259.2 150.9 258.0 151.6 256.9 152.0 254.6 152.0 253.2 151.6 252.3 151.1 250.9 149.7 250.3 147.8 250.3 145.3 250.6 144.0 251.1 143.2ZM224.5 132.2 233.9 132.2 234.1 132.4 234.1 143.0 233.6 143.5 232.3 144.2 230.3 144.8 226.8 144.8 225.4 144.2 226.2 141.8 226.3 137.9 225.8 135.4 225.0 133.5 224.4 132.6ZM315.4 117.6 313.9 118.1 313.1 119.0 312.6 120.2 312.6 121.1 313.3 122.7 314.1 123.4 315.0 123.7 316.0 123.7 316.9 123.4 317.9 122.3 318.2 121.5 318.2 119.9 317.7 118.8 317.1 118.1 316.5 117.7ZM295.1 115.1 294.5 115.4 294.5 115.8 296.1 120.4 298.5 119.7 300.7 119.7 302.0 120.0 302.9 120.6 305.5 123.2 308.2 127.8 308.0 128.0 289.9 128.0 289.9 132.2 294.8 132.2 295.0 132.4 295.0 144.0 293.5 144.4 292.3 145.5 291.8 146.7 291.8 148.6 292.1 149.9 293.1 151.6 294.2 152.7 296.2 153.6 298.2 153.6 299.9 152.7 299.9 148.8 300.1 148.6 308.3 148.6 308.5 148.8 308.5 161.5 313.6 161.5 313.6 132.4 313.8 132.2 317.6 132.2 317.6 128.0 312.3 128.0 308.5 120.2 307.6 118.8 305.6 116.7 304.5 115.8 302.8 114.9 300.4 114.4 298.0 114.4ZM300.2 132.2 308.3 132.2 308.5 132.4 308.5 144.0 308.3 144.2 300.1 144.2 299.9 144.0 299.9 132.6Z" fill="#1c1c1c"/><path aria-label="सबसे सटीक" d="M1072.1 54.1 1066.3 54.1 1062.1 46.2 1061.0 44.8 1058.9 42.6 1057.7 41.7 1055.7 40.8 1053.1 40.3 1050.4 40.3 1047.8 40.8 1046.5 41.4 1048.1 46.2 1048.7 46.4 1051.0 45.7 1053.4 45.7 1054.8 46.0 1055.9 46.6 1058.7 49.2 1061.7 53.7 1061.5 54.1 969.5 54.1 969.5 58.4 980.4 58.4 981.1 59.3 982.2 61.4 982.7 63.8 982.7 66.3 982.4 67.7 981.8 68.8 980.8 69.8 979.4 70.6 977.8 70.6 976.7 70.0 975.5 68.8 974.8 67.7 973.4 67.9 972.5 68.2 971.6 68.9 971.3 69.7 971.3 71.5 972.7 74.1 982.5 89.0 987.5 86.0 979.4 75.2 979.5 75.0 980.8 75.0 982.4 74.7 984.1 73.8 986.6 75.0 989.2 75.8 990.8 75.8 991.0 75.9 994.4 75.8 996.5 75.0 996.6 75.2 996.6 88.1 1002.3 88.1 1002.3 58.6 1002.5 58.4 1005.6 58.4 1005.8 58.6 1006.7 58.6 1006.9 58.4 1025.6 58.4 1025.7 58.6 1025.7 64.7 1025.6 64.8 1025.2 64.5 1022.9 63.4 1021.5 63.0 1018.5 62.9 1018.3 63.0 1016.6 63.0 1013.9 63.8 1011.5 65.2 1009.9 66.8 1008.8 68.8 1008.3 70.7 1008.3 74.7 1008.8 76.7 1010.0 78.8 1011.3 80.2 1012.7 81.3 1014.5 82.2 1017.1 82.9 1021.5 82.9 1024.0 82.2 1025.0 81.7 1025.6 81.1 1025.7 81.3 1025.7 88.1 1031.4 88.1 1031.4 58.6 1031.6 58.4 1034.7 58.4 1034.9 58.6 1035.8 58.6 1036.0 58.4 1045.8 58.4 1046.5 59.3 1047.6 61.4 1048.1 63.8 1048.1 66.3 1047.8 67.7 1047.2 68.8 1046.2 69.8 1045.3 70.4 1043.2 70.6 1042.1 70.0 1040.9 68.8 1040.2 67.7 1038.8 67.9 1037.9 68.2 1037.0 68.9 1036.7 69.7 1036.7 71.5 1038.1 74.1 1048.0 89.0 1052.5 86.3 1052.9 85.8 1044.8 75.2 1045.0 75.0 1046.2 75.0 1047.8 74.7 1049.5 73.8 1052.0 75.0 1054.7 75.8 1056.2 75.8 1056.4 75.9 1059.8 75.8 1061.9 75.0 1062.1 75.2 1062.1 88.1 1067.7 88.1 1067.7 58.6 1067.9 58.4 1072.1 58.4ZM1015.5 68.9 1022.0 77.7 1021.7 78.3 1021.0 78.4 1017.8 78.3 1016.2 77.5 1014.8 76.3 1014.3 75.4 1013.9 74.1 1013.9 71.6 1014.6 69.8ZM1018.3 67.5 1021.5 67.5 1024.0 68.4 1025.7 69.8 1025.7 74.9 1025.2 75.9 1024.5 76.7 1018.2 67.9ZM1051.8 58.4 1061.9 58.4 1062.1 58.6 1062.1 69.3 1061.5 69.8 1060.1 70.6 1058.0 71.1 1054.3 71.1 1052.7 70.6 1053.6 68.1 1053.8 64.1 1053.2 61.6 1052.4 59.6 1051.7 58.7ZM986.4 58.4 996.5 58.4 996.6 58.6 996.6 69.3 996.1 69.8 994.7 70.6 992.6 71.1 988.9 71.1 987.3 70.6 988.2 68.1 988.4 64.1 987.8 61.6 986.9 59.6 986.2 58.7ZM1192.4 54.1 1146.4 54.1 1144.8 49.2 1143.7 47.1 1142.0 44.6 1140.1 42.8 1138.0 41.5 1136.0 41.0 1133.8 40.8 1133.6 41.0 1131.3 41.2 1128.8 42.3 1126.6 44.6 1125.7 46.7 1125.5 49.8 1126.2 52.6 1126.9 53.9 1126.7 54.1 1074.4 54.1 1074.4 58.4 1085.2 58.4 1085.9 59.3 1087.0 61.4 1087.5 63.8 1087.5 66.3 1087.2 67.7 1086.6 68.8 1085.6 69.8 1084.2 70.6 1082.6 70.6 1081.6 70.0 1080.3 68.8 1079.6 67.7 1078.2 67.9 1077.4 68.2 1076.5 68.9 1076.1 69.7 1076.1 71.5 1077.5 74.1 1087.3 89.0 1092.2 86.0 1084.2 75.2 1084.4 75.0 1085.6 75.0 1087.2 74.7 1088.9 73.8 1091.4 75.0 1094.0 75.8 1095.6 75.8 1095.8 75.9 1099.1 75.8 1101.2 75.0 1101.4 75.2 1101.4 88.1 1107.0 88.1 1107.0 58.6 1107.1 58.4 1110.3 58.4 1110.5 58.6 1111.3 58.6 1111.5 58.4 1127.8 58.4 1128.1 58.7 1128.1 64.3 1127.6 64.7 1121.7 65.7 1119.6 66.4 1117.8 67.3 1115.9 68.8 1114.5 70.4 1113.4 72.4 1112.9 74.3 1112.9 78.6 1113.8 81.5 1114.8 83.3 1116.9 85.4 1120.1 87.2 1122.5 87.9 1124.6 88.1 1124.8 88.3 1128.5 88.3 1128.7 88.1 1131.3 87.9 1134.5 87.0 1136.4 86.0 1135.0 81.7 1134.6 81.7 1133.0 82.6 1129.7 83.5 1128.5 83.5 1128.3 83.6 1124.5 83.5 1123.1 83.1 1120.6 81.7 1119.2 79.9 1118.5 77.5 1118.5 75.8 1118.9 74.5 1119.4 73.4 1121.3 71.6 1124.6 70.2 1133.6 68.4 1133.6 58.6 1133.8 58.4 1137.1 58.4 1137.3 58.6 1141.5 58.4 1141.6 58.6 1141.6 88.1 1147.2 88.1 1147.2 58.6 1147.4 58.4 1150.6 58.4 1150.7 58.6 1151.8 58.6 1152.0 58.4 1168.2 58.4 1168.6 58.7 1168.6 65.0 1168.2 65.2 1166.5 63.9 1164.2 63.2 1160.5 63.2 1158.6 63.8 1156.9 64.7 1154.9 66.4 1153.7 68.6 1153.2 70.4 1153.2 74.5 1153.9 77.0 1154.8 78.6 1156.2 80.2 1157.6 81.3 1160.0 82.4 1161.9 82.6 1162.1 82.7 1163.7 82.7 1166.7 82.0 1168.4 80.8 1168.6 80.9 1168.6 88.1 1174.0 88.1 1174.0 72.0 1174.7 70.2 1176.0 68.8 1176.8 68.2 1178.1 67.9 1181.0 68.1 1182.1 68.6 1183.3 69.8 1183.8 71.1 1183.8 72.0 1184.0 72.2 1183.7 74.7 1183.1 75.8 1182.3 76.7 1181.0 77.4 1179.8 77.7 1178.1 77.7 1177.9 77.5 1177.4 77.7 1176.8 82.0 1181.4 82.2 1184.0 81.5 1185.8 80.6 1187.5 79.0 1188.4 77.7 1189.3 75.6 1189.4 73.2 1189.6 73.1 1189.4 70.6 1188.9 68.8 1188.2 67.3 1186.3 65.2 1184.0 63.9 1181.9 63.4 1178.8 63.4 1175.8 64.3 1174.2 65.5 1174.0 65.4 1174.0 58.6 1174.2 58.4 1192.4 58.4ZM1161.9 67.9 1162.6 67.7 1165.8 67.9 1167.5 68.8 1168.6 69.8 1168.6 74.0 1168.4 74.9 1167.5 76.5 1166.0 77.7 1164.9 78.1 1161.8 77.9 1160.5 77.2 1159.7 76.3 1159.0 75.0 1158.8 74.3 1158.8 71.3 1159.5 69.7 1160.4 68.8ZM1091.2 58.4 1101.2 58.4 1101.4 58.6 1101.4 69.3 1100.8 69.8 1099.4 70.6 1097.3 71.1 1093.6 71.1 1092.1 70.6 1092.9 68.1 1093.1 64.1 1092.6 61.6 1091.7 59.6 1091.0 58.7ZM1131.3 47.1 1132.5 45.8 1133.4 45.5 1135.3 45.5 1136.9 46.2 1138.7 48.0 1139.4 49.1 1141.3 53.9 1141.1 54.1 1132.3 54.1 1131.5 52.5 1130.9 50.5 1130.9 48.2Z" fill="#1c1c1c"/><rect x="68" y="100" width="250" height="4" fill="#fff"/><rect x="904" y="100" width="352" height="4.5" fill="#fff"/><path d="M429.9 116 C455.4 71.4 495.5 30.5 557.7 28.6 C619.9 30.5 660 71.4 685.5 116 L680.9 116 C651.7 70 615.3 41 557.7 41.5 C500.1 41 463.7 70 434.5 116 Z" fill="#0b6b2c" stroke="#dfe33a" stroke-width="1.2"/><g transform="rotate(15 557.7 87.4)"><ellipse cx="557.7" cy="87.4" rx="27.3" ry="33" fill="#fbc02b" stroke="#f2a91d" stroke-width="1.2"/></g><path d="M536 91 C535 76 546 62 561 59 C563.5 60 563 63 560 64.5 C549 68 541 79 538.5 91 Z" fill="#fff"/><path d="M579.8 88.5 C576.5 100 567 110 553.5 113.8 C549 115 548.5 119.5 553 119 C567 116.5 577 104.5 579.8 88.5 Z" fill="#2b2b2b"/><text x="552.5" y="104.6" font-family="Liberation Sans" font-weight="bold" font-size="22" fill="#1f9a3c" textLength="15" lengthAdjust="spacingAndGlyphs">G</text><path d="M544 105 L547.5 84 L551.5 84 L549 105 Z" fill="#e5632c"/><path d="M546 84 L545.5 76 M549 84 L549 76 M552 84 L552.5 76" stroke="#e5632c" stroke-width="1.2"/><rect x="542" y="108.5" width="18" height="1.2" fill="#7fb46a"/><path d="M827.0 136.9 825.0 138.8 823.6 141.6 823.6 144.5 824.3 146.2 825.0 146.9 827.7 148.1 831.0 148.3 833.4 147.8 836.1 146.6 837.5 145.0 838.0 143.5 838.2 138.8 839.0 137.8 839.9 137.6 841.1 138.3 841.9 140.4 841.9 150.0 841.6 150.2 840.9 150.0 836.6 150.0 836.3 150.2 834.4 150.2 832.0 150.7 827.7 152.4 826.2 153.3 823.8 155.7 823.1 156.9 822.4 159.3 822.4 162.8 823.6 165.9 826.0 168.3 827.9 169.3 830.6 170.0 834.9 170.0 838.0 169.3 840.6 168.1 843.5 165.5 844.7 167.1 846.9 168.8 850.7 170.0 854.6 170.0 858.4 168.6 861.3 165.9 862.3 163.3 862.3 161.9 861.8 160.7 861.1 160.2 859.6 160.2 859.2 160.7 858.0 160.7 857.2 160.0 857.2 141.9 857.0 141.6 857.0 140.2 856.0 137.6 853.4 134.7 851.0 133.5 847.1 132.6 839.9 132.6 839.7 132.8 838.0 132.8 834.2 133.5 830.6 134.7ZM839.9 154.3 841.1 154.3 841.9 154.7 841.9 161.7 841.4 162.1 839.4 161.7 838.7 160.9 838.0 159.0 838.0 156.9 838.5 155.5ZM543.4 136.9 541.4 138.8 540.0 141.6 540.0 144.5 540.7 146.2 541.4 146.9 544.1 148.1 547.4 148.3 549.8 147.8 552.5 146.6 553.9 145.0 554.4 143.5 554.7 138.8 555.4 137.8 556.3 137.6 557.5 138.3 558.3 140.4 558.3 150.0 558.0 150.2 557.3 150.0 553.0 150.0 552.7 150.2 550.8 150.2 548.4 150.7 544.1 152.4 542.6 153.3 540.2 155.7 539.5 156.9 538.8 159.3 538.8 162.8 540.0 165.9 542.4 168.3 544.3 169.3 547.0 170.0 551.3 170.0 554.4 169.3 557.1 168.1 559.9 165.5 561.1 167.1 563.3 168.8 567.2 170.0 571.0 170.0 574.8 168.6 577.7 165.9 578.7 163.3 578.7 161.9 578.2 160.7 577.5 160.2 576.0 160.2 575.6 160.7 574.4 160.7 573.6 160.0 573.6 141.9 573.4 141.6 573.4 140.2 572.4 137.6 569.8 134.7 567.4 133.5 563.5 132.6 556.3 132.6 556.1 132.8 554.4 132.8 550.6 133.5 547.0 134.7ZM556.3 154.3 557.5 154.3 558.3 154.7 558.3 161.7 557.8 162.1 555.9 161.7 555.1 160.9 554.4 159.0 554.4 156.9 554.9 155.5ZM814.5 132.6 812.5 132.3 808.7 133.3 800.3 136.6 798.4 137.6 797.4 138.5 797.1 141.1 800.3 144.2 800.5 145.0 800.5 160.9 800.3 161.7 797.6 164.5 797.6 167.1 798.1 168.1 800.0 169.0 816.6 169.0 817.8 168.6 819.0 167.1 819.0 164.5 817.3 162.8 816.1 160.9 816.1 134.9 815.4 133.3ZM702.5 138.3 702.0 139.2 702.0 141.1 704.6 143.8 705.1 144.7 705.1 146.2 705.3 146.4 705.3 159.5 704.9 161.7 702.5 164.8 702.5 167.1 703.2 168.3 704.9 169.0 721.2 169.0 721.9 168.8 722.9 167.9 723.4 166.4 723.1 164.5 721.2 162.4 720.7 160.5 720.7 145.0 721.9 143.8 723.4 143.1 725.8 143.1 726.7 143.5 727.7 145.0 728.2 146.9 728.2 160.9 727.7 162.1 725.8 164.8 725.8 167.1 726.3 168.1 727.7 169.0 744.3 169.0 745.5 168.6 746.2 167.9 746.7 166.7 746.4 164.5 744.5 162.4 743.8 160.9 743.8 142.8 743.6 142.6 743.6 141.1 742.6 138.0 741.6 136.4 739.0 133.8 737.1 132.8 734.7 132.3 732.7 132.3 730.3 132.8 726.7 134.5 721.0 138.8 720.7 138.5 720.7 134.5 720.2 133.5 719.3 132.6 717.1 132.3 716.9 132.6 715.7 132.6 709.2 134.9 708.0 135.7 705.1 136.6ZM606.3 138.3 605.8 139.2 605.8 141.1 608.5 143.8 609.0 144.7 609.0 146.2 609.2 146.4 609.2 159.5 608.7 161.7 606.3 164.8 606.3 167.1 607.0 168.3 608.7 169.0 625.1 169.0 625.8 168.8 626.8 167.9 627.2 166.4 627.0 164.5 625.1 162.4 624.6 160.5 624.6 145.0 625.8 143.8 627.2 143.1 629.6 143.1 630.6 143.5 631.6 145.0 632.0 146.9 632.0 160.9 631.6 162.1 629.6 164.8 629.6 167.1 630.1 168.1 631.6 169.0 648.1 169.0 649.3 168.6 650.1 167.9 650.5 166.7 650.3 164.5 648.4 162.4 647.7 160.9 647.7 142.8 647.4 142.6 647.4 141.1 646.5 138.0 645.5 136.4 642.9 133.8 640.9 132.8 638.5 132.3 636.6 132.3 634.2 132.8 630.6 134.5 624.8 138.8 624.6 138.5 624.6 134.5 624.1 133.5 623.1 132.6 621.0 132.3 620.7 132.6 619.5 132.6 613.1 134.9 611.9 135.7 609.0 136.6ZM597.4 132.6 595.5 132.3 591.7 133.3 583.3 136.6 581.3 137.6 580.4 138.5 580.1 141.1 583.3 144.2 583.5 145.0 583.5 160.9 583.3 161.7 580.6 164.5 580.6 167.1 581.1 168.1 583.0 169.0 599.6 169.0 600.8 168.6 602.0 167.1 602.0 164.5 600.3 162.8 599.1 160.9 599.1 134.9 598.4 133.3ZM534.0 133.8 532.3 132.8 530.1 132.3 528.5 132.3 526.1 132.8 524.1 133.8 522.0 135.9 519.8 140.0 519.6 139.7 519.6 138.3 518.8 134.5 518.1 133.0 516.7 132.3 514.8 132.6 504.4 136.6 501.8 138.3 501.3 139.2 501.3 141.1 504.4 144.2 504.9 146.4 504.9 159.5 504.4 161.7 502.5 163.6 501.8 164.8 501.8 167.1 502.5 168.3 504.2 169.0 524.6 169.0 525.8 168.6 526.5 167.9 527.0 166.4 527.0 165.2 526.5 163.8 525.3 163.1 522.7 162.6 521.0 161.9 520.3 161.2 520.0 160.5 520.0 145.9 520.3 145.7 520.3 144.5 521.0 142.6 521.7 142.1 522.7 142.1 523.7 143.3 523.7 145.4 523.9 145.7 524.1 148.1 524.6 149.0 526.3 150.4 528.0 150.9 531.8 150.9 534.0 150.0 534.9 149.0 536.1 146.9 536.9 143.8 536.6 138.5 535.4 135.4ZM674.1 121.1 672.2 122.5 671.7 124.7 671.9 124.9 671.9 126.4 672.4 127.3 673.4 128.3 675.1 129.2 676.5 131.1 676.5 158.8 676.3 159.5 674.8 160.9 672.9 162.1 672.2 163.1 671.7 165.2 671.9 166.9 673.4 168.6 674.8 169.0 695.2 169.0 696.2 168.8 697.7 167.9 698.4 166.2 698.4 164.5 697.7 162.6 696.7 161.7 695.0 160.7 694.0 159.7 693.6 158.6 693.6 131.4 694.3 129.9 697.7 127.3 698.4 125.4 698.1 123.0 696.9 121.6 695.0 120.9 675.1 120.9ZM416.2 121.1 414.3 122.5 413.8 124.7 414.1 124.9 414.1 126.4 414.5 127.3 415.5 128.3 417.2 129.2 418.6 131.1 418.6 158.8 418.4 159.5 416.9 160.9 415.0 162.1 414.3 163.1 413.8 165.2 414.1 166.9 415.5 168.6 416.9 169.0 437.4 169.0 438.3 168.8 439.8 167.9 440.5 166.2 440.5 164.5 439.8 162.6 438.8 161.7 437.1 160.7 436.2 159.7 435.7 158.6 435.7 131.4 436.4 129.9 439.8 127.3 440.5 125.4 440.3 123.0 439.1 121.6 437.1 120.9 417.2 120.9ZM453.5 125.6 450.4 128.7 447.7 132.6 445.5 137.8 444.8 141.1 444.8 143.1 444.6 143.3 444.8 149.5 446.0 155.0 448.2 159.7 450.8 163.3 453.5 165.7 456.8 167.9 459.0 168.8 463.3 170.0 467.2 170.2 467.4 170.5 472.5 170.2 476.1 169.3 480.9 167.1 483.0 167.1 487.1 170.2 489.5 170.5 491.0 170.0 492.4 168.1 492.4 153.3 492.6 152.6 493.9 151.4 495.3 150.7 497.0 148.8 497.0 147.6 497.2 147.3 497.0 145.9 495.8 144.5 494.6 144.0 474.1 144.0 472.5 144.7 471.5 146.2 471.5 148.5 472.9 150.2 475.3 151.4 477.3 152.8 477.3 160.5 476.3 161.4 475.6 161.7 473.2 161.7 470.5 160.9 468.6 159.7 466.9 158.3 464.8 155.5 462.6 150.4 461.9 146.6 461.9 143.5 461.6 143.3 462.1 137.6 462.8 134.7 464.5 131.1 467.2 128.3 468.6 127.3 470.8 126.6 474.6 126.4 474.9 126.6 476.5 126.6 478.7 127.3 481.4 129.0 482.8 130.4 486.6 135.9 488.3 137.8 490.7 138.3 493.4 137.3 494.3 135.9 494.3 133.8 493.1 129.2 490.0 120.4 489.0 119.7 486.9 119.7 484.0 121.4 481.4 121.4 475.1 119.7 472.7 119.7 472.5 119.4 466.9 119.7 462.6 120.6 459.5 121.8 456.8 123.3ZM798.6 122.3 798.1 124.0 798.1 126.1 798.6 127.8 799.8 129.5 801.5 130.7 803.2 131.4 806.8 132.1 809.2 132.1 812.8 131.4 814.5 130.7 816.1 129.5 817.1 128.3 817.6 127.1 817.8 124.2 816.9 121.6 814.7 119.7 812.3 118.7 810.1 118.3 805.8 118.3 803.6 118.7 800.5 120.2ZM581.6 122.3 581.1 124.0 581.1 126.1 581.6 127.8 582.8 129.5 584.5 130.7 586.1 131.4 589.7 132.1 592.1 132.1 595.8 131.4 597.4 130.7 599.1 129.5 600.1 128.3 600.6 127.1 600.8 124.2 599.8 121.6 597.7 119.7 595.3 118.7 593.1 118.3 588.8 118.3 586.6 118.7 583.5 120.2ZM788.3 116.8 784.4 117.1 773.4 121.4 771.7 122.5 771.2 123.5 771.2 125.4 774.3 129.0 774.6 129.9 774.6 133.5 774.3 133.8 771.9 132.8 769.3 132.6 769.0 132.3 764.9 132.6 761.3 133.5 759.4 134.5 756.3 136.9 753.2 140.9 751.7 144.0 750.5 148.8 750.3 153.3 750.5 153.5 750.8 157.1 751.7 160.5 752.9 163.1 754.4 165.2 756.8 167.6 759.7 169.3 762.3 170.0 767.8 169.8 771.2 168.3 773.6 166.7 775.3 165.0 777.9 167.9 780.8 169.0 790.7 169.0 792.6 167.9 793.1 166.7 793.1 165.0 792.6 164.0 790.4 161.7 790.2 160.9 790.2 119.7 789.5 117.8ZM770.5 140.2 773.1 140.4 774.6 141.6 774.6 160.2 772.9 161.2 770.7 161.2 769.8 160.7 768.6 159.5 767.6 157.8 766.6 154.3 766.4 149.5 766.6 149.3 766.6 146.9 767.3 143.8 768.3 141.9 769.8 140.4Z" fill="#066830"/><rect x="418" y="176.5" width="444" height="3.6" fill="#3f2a86"/><text class="s" x="461" y="199.8" font-size="19.2" fill="#262626" textLength="358" lengthAdjust="spacingAndGlyphs">AGRI-COMMODITY RESEARCH CENTRE</text><defs><filter id="bl" x="-5%" y="-5%" width="110%" height="110%"><feGaussianBlur stdDeviation="1.2"/></filter></defs><g filter="url(#bl)"><g transform="matrix(2.72 0 0 4.10 -1081.7 297.8)"><path d="M429.9 116 C455.4 71.4 495.5 30.5 557.7 28.6 C619.9 30.5 660 71.4 685.5 116 L680.9 116 C651.7 70 615.3 41 557.7 41.5 C500.1 41 463.7 70 434.5 116 Z" fill="rgb(80,190,150)" fill-opacity="0.2" stroke="rgb(240,230,90)" stroke-opacity="0.22" stroke-width="1.6"/></g><g transform="matrix(2.62 0 0 4.158 -1026 291.1)"><g transform="rotate(15 557.7 87.4)"><ellipse cx="557.7" cy="87.4" rx="27.3" ry="33" fill="rgb(250,230,80)" fill-opacity="0.09"/></g><path d="M536 91 C535 76 546 62 561 59 C563.5 60 563 63 560 64.5 C549 68 541 79 538.5 91 Z" fill="#fff" fill-opacity="0.25"/><path d="M579.8 88.5 C576.5 100 567 110 553.5 113.8 C549 115 548.5 119.5 553 119 C567 116.5 577 104.5 579.8 88.5 Z" fill="#555" fill-opacity="0.08"/><text x="552.5" y="104.6" font-family="Liberation Sans" font-weight="bold" font-size="22" fill="rgb(80,210,220)" fill-opacity="0.18" textLength="15" lengthAdjust="spacingAndGlyphs">G</text><path d="M544 105 L547.5 84 L551.5 84 L549 105 Z" fill="rgb(230,100,50)" fill-opacity="0.08"/><path d="M827.0 136.9 825.0 138.8 823.6 141.6 823.6 144.5 824.3 146.2 825.0 146.9 827.7 148.1 831.0 148.3 833.4 147.8 836.1 146.6 837.5 145.0 838.0 143.5 838.2 138.8 839.0 137.8 839.9 137.6 841.1 138.3 841.9 140.4 841.9 150.0 841.6 150.2 840.9 150.0 836.6 150.0 836.3 150.2 834.4 150.2 832.0 150.7 827.7 152.4 826.2 153.3 823.8 155.7 823.1 156.9 822.4 159.3 822.4 162.8 823.6 165.9 826.0 168.3 827.9 169.3 830.6 170.0 834.9 170.0 838.0 169.3 840.6 168.1 843.5 165.5 844.7 167.1 846.9 168.8 850.7 170.0 854.6 170.0 858.4 168.6 861.3 165.9 862.3 163.3 862.3 161.9 861.8 160.7 861.1 160.2 859.6 160.2 859.2 160.7 858.0 160.7 857.2 160.0 857.2 141.9 857.0 141.6 857.0 140.2 856.0 137.6 853.4 134.7 851.0 133.5 847.1 132.6 839.9 132.6 839.7 132.8 838.0 132.8 834.2 133.5 830.6 134.7ZM839.9 154.3 841.1 154.3 841.9 154.7 841.9 161.7 841.4 162.1 839.4 161.7 838.7 160.9 838.0 159.0 838.0 156.9 838.5 155.5ZM543.4 136.9 541.4 138.8 540.0 141.6 540.0 144.5 540.7 146.2 541.4 146.9 544.1 148.1 547.4 148.3 549.8 147.8 552.5 146.6 553.9 145.0 554.4 143.5 554.7 138.8 555.4 137.8 556.3 137.6 557.5 138.3 558.3 140.4 558.3 150.0 558.0 150.2 557.3 150.0 553.0 150.0 552.7 150.2 550.8 150.2 548.4 150.7 544.1 152.4 542.6 153.3 540.2 155.7 539.5 156.9 538.8 159.3 538.8 162.8 540.0 165.9 542.4 168.3 544.3 169.3 547.0 170.0 551.3 170.0 554.4 169.3 557.1 168.1 559.9 165.5 561.1 167.1 563.3 168.8 567.2 170.0 571.0 170.0 574.8 168.6 577.7 165.9 578.7 163.3 578.7 161.9 578.2 160.7 577.5 160.2 576.0 160.2 575.6 160.7 574.4 160.7 573.6 160.0 573.6 141.9 573.4 141.6 573.4 140.2 572.4 137.6 569.8 134.7 567.4 133.5 563.5 132.6 556.3 132.6 556.1 132.8 554.4 132.8 550.6 133.5 547.0 134.7ZM556.3 154.3 557.5 154.3 558.3 154.7 558.3 161.7 557.8 162.1 555.9 161.7 555.1 160.9 554.4 159.0 554.4 156.9 554.9 155.5ZM814.5 132.6 812.5 132.3 808.7 133.3 800.3 136.6 798.4 137.6 797.4 138.5 797.1 141.1 800.3 144.2 800.5 145.0 800.5 160.9 800.3 161.7 797.6 164.5 797.6 167.1 798.1 168.1 800.0 169.0 816.6 169.0 817.8 168.6 819.0 167.1 819.0 164.5 817.3 162.8 816.1 160.9 816.1 134.9 815.4 133.3ZM702.5 138.3 702.0 139.2 702.0 141.1 704.6 143.8 705.1 144.7 705.1 146.2 705.3 146.4 705.3 159.5 704.9 161.7 702.5 164.8 702.5 167.1 703.2 168.3 704.9 169.0 721.2 169.0 721.9 168.8 722.9 167.9 723.4 166.4 723.1 164.5 721.2 162.4 720.7 160.5 720.7 145.0 721.9 143.8 723.4 143.1 725.8 143.1 726.7 143.5 727.7 145.0 728.2 146.9 728.2 160.9 727.7 162.1 725.8 164.8 725.8 167.1 726.3 168.1 727.7 169.0 744.3 169.0 745.5 168.6 746.2 167.9 746.7 166.7 746.4 164.5 744.5 162.4 743.8 160.9 743.8 142.8 743.6 142.6 743.6 141.1 742.6 138.0 741.6 136.4 739.0 133.8 737.1 132.8 734.7 132.3 732.7 132.3 730.3 132.8 726.7 134.5 721.0 138.8 720.7 138.5 720.7 134.5 720.2 133.5 719.3 132.6 717.1 132.3 716.9 132.6 715.7 132.6 709.2 134.9 708.0 135.7 705.1 136.6ZM606.3 138.3 605.8 139.2 605.8 141.1 608.5 143.8 609.0 144.7 609.0 146.2 609.2 146.4 609.2 159.5 608.7 161.7 606.3 164.8 606.3 167.1 607.0 168.3 608.7 169.0 625.1 169.0 625.8 168.8 626.8 167.9 627.2 166.4 627.0 164.5 625.1 162.4 624.6 160.5 624.6 145.0 625.8 143.8 627.2 143.1 629.6 143.1 630.6 143.5 631.6 145.0 632.0 146.9 632.0 160.9 631.6 162.1 629.6 164.8 629.6 167.1 630.1 168.1 631.6 169.0 648.1 169.0 649.3 168.6 650.1 167.9 650.5 166.7 650.3 164.5 648.4 162.4 647.7 160.9 647.7 142.8 647.4 142.6 647.4 141.1 646.5 138.0 645.5 136.4 642.9 133.8 640.9 132.8 638.5 132.3 636.6 132.3 634.2 132.8 630.6 134.5 624.8 138.8 624.6 138.5 624.6 134.5 624.1 133.5 623.1 132.6 621.0 132.3 620.7 132.6 619.5 132.6 613.1 134.9 611.9 135.7 609.0 136.6ZM597.4 132.6 595.5 132.3 591.7 133.3 583.3 136.6 581.3 137.6 580.4 138.5 580.1 141.1 583.3 144.2 583.5 145.0 583.5 160.9 583.3 161.7 580.6 164.5 580.6 167.1 581.1 168.1 583.0 169.0 599.6 169.0 600.8 168.6 602.0 167.1 602.0 164.5 600.3 162.8 599.1 160.9 599.1 134.9 598.4 133.3ZM534.0 133.8 532.3 132.8 530.1 132.3 528.5 132.3 526.1 132.8 524.1 133.8 522.0 135.9 519.8 140.0 519.6 139.7 519.6 138.3 518.8 134.5 518.1 133.0 516.7 132.3 514.8 132.6 504.4 136.6 501.8 138.3 501.3 139.2 501.3 141.1 504.4 144.2 504.9 146.4 504.9 159.5 504.4 161.7 502.5 163.6 501.8 164.8 501.8 167.1 502.5 168.3 504.2 169.0 524.6 169.0 525.8 168.6 526.5 167.9 527.0 166.4 527.0 165.2 526.5 163.8 525.3 163.1 522.7 162.6 521.0 161.9 520.3 161.2 520.0 160.5 520.0 145.9 520.3 145.7 520.3 144.5 521.0 142.6 521.7 142.1 522.7 142.1 523.7 143.3 523.7 145.4 523.9 145.7 524.1 148.1 524.6 149.0 526.3 150.4 528.0 150.9 531.8 150.9 534.0 150.0 534.9 149.0 536.1 146.9 536.9 143.8 536.6 138.5 535.4 135.4ZM674.1 121.1 672.2 122.5 671.7 124.7 671.9 124.9 671.9 126.4 672.4 127.3 673.4 128.3 675.1 129.2 676.5 131.1 676.5 158.8 676.3 159.5 674.8 160.9 672.9 162.1 672.2 163.1 671.7 165.2 671.9 166.9 673.4 168.6 674.8 169.0 695.2 169.0 696.2 168.8 697.7 167.9 698.4 166.2 698.4 164.5 697.7 162.6 696.7 161.7 695.0 160.7 694.0 159.7 693.6 158.6 693.6 131.4 694.3 129.9 697.7 127.3 698.4 125.4 698.1 123.0 696.9 121.6 695.0 120.9 675.1 120.9ZM416.2 121.1 414.3 122.5 413.8 124.7 414.1 124.9 414.1 126.4 414.5 127.3 415.5 128.3 417.2 129.2 418.6 131.1 418.6 158.8 418.4 159.5 416.9 160.9 415.0 162.1 414.3 163.1 413.8 165.2 414.1 166.9 415.5 168.6 416.9 169.0 437.4 169.0 438.3 168.8 439.8 167.9 440.5 166.2 440.5 164.5 439.8 162.6 438.8 161.7 437.1 160.7 436.2 159.7 435.7 158.6 435.7 131.4 436.4 129.9 439.8 127.3 440.5 125.4 440.3 123.0 439.1 121.6 437.1 120.9 417.2 120.9ZM453.5 125.6 450.4 128.7 447.7 132.6 445.5 137.8 444.8 141.1 444.8 143.1 444.6 143.3 444.8 149.5 446.0 155.0 448.2 159.7 450.8 163.3 453.5 165.7 456.8 167.9 459.0 168.8 463.3 170.0 467.2 170.2 467.4 170.5 472.5 170.2 476.1 169.3 480.9 167.1 483.0 167.1 487.1 170.2 489.5 170.5 491.0 170.0 492.4 168.1 492.4 153.3 492.6 152.6 493.9 151.4 495.3 150.7 497.0 148.8 497.0 147.6 497.2 147.3 497.0 145.9 495.8 144.5 494.6 144.0 474.1 144.0 472.5 144.7 471.5 146.2 471.5 148.5 472.9 150.2 475.3 151.4 477.3 152.8 477.3 160.5 476.3 161.4 475.6 161.7 473.2 161.7 470.5 160.9 468.6 159.7 466.9 158.3 464.8 155.5 462.6 150.4 461.9 146.6 461.9 143.5 461.6 143.3 462.1 137.6 462.8 134.7 464.5 131.1 467.2 128.3 468.6 127.3 470.8 126.6 474.6 126.4 474.9 126.6 476.5 126.6 478.7 127.3 481.4 129.0 482.8 130.4 486.6 135.9 488.3 137.8 490.7 138.3 493.4 137.3 494.3 135.9 494.3 133.8 493.1 129.2 490.0 120.4 489.0 119.7 486.9 119.7 484.0 121.4 481.4 121.4 475.1 119.7 472.7 119.7 472.5 119.4 466.9 119.7 462.6 120.6 459.5 121.8 456.8 123.3ZM798.6 122.3 798.1 124.0 798.1 126.1 798.6 127.8 799.8 129.5 801.5 130.7 803.2 131.4 806.8 132.1 809.2 132.1 812.8 131.4 814.5 130.7 816.1 129.5 817.1 128.3 817.6 127.1 817.8 124.2 816.9 121.6 814.7 119.7 812.3 118.7 810.1 118.3 805.8 118.3 803.6 118.7 800.5 120.2ZM581.6 122.3 581.1 124.0 581.1 126.1 581.6 127.8 582.8 129.5 584.5 130.7 586.1 131.4 589.7 132.1 592.1 132.1 595.8 131.4 597.4 130.7 599.1 129.5 600.1 128.3 600.6 127.1 600.8 124.2 599.8 121.6 597.7 119.7 595.3 118.7 593.1 118.3 588.8 118.3 586.6 118.7 583.5 120.2ZM788.3 116.8 784.4 117.1 773.4 121.4 771.7 122.5 771.2 123.5 771.2 125.4 774.3 129.0 774.6 129.9 774.6 133.5 774.3 133.8 771.9 132.8 769.3 132.6 769.0 132.3 764.9 132.6 761.3 133.5 759.4 134.5 756.3 136.9 753.2 140.9 751.7 144.0 750.5 148.8 750.3 153.3 750.5 153.5 750.8 157.1 751.7 160.5 752.9 163.1 754.4 165.2 756.8 167.6 759.7 169.3 762.3 170.0 767.8 169.8 771.2 168.3 773.6 166.7 775.3 165.0 777.9 167.9 780.8 169.0 790.7 169.0 792.6 167.9 793.1 166.7 793.1 165.0 792.6 164.0 790.4 161.7 790.2 160.9 790.2 119.7 789.5 117.8ZM770.5 140.2 773.1 140.4 774.6 141.6 774.6 160.2 772.9 161.2 770.7 161.2 769.8 160.7 768.6 159.5 767.6 157.8 766.6 154.3 766.4 149.5 766.6 149.3 766.6 146.9 767.3 143.8 768.3 141.9 769.8 140.4Z" fill="rgb(120,217,170)" fill-opacity="0.18"/><rect x="418" y="176.8" width="444" height="2.3" fill="rgb(120,110,230)" fill-opacity="0.09"/></g></g></svg></body></html>
